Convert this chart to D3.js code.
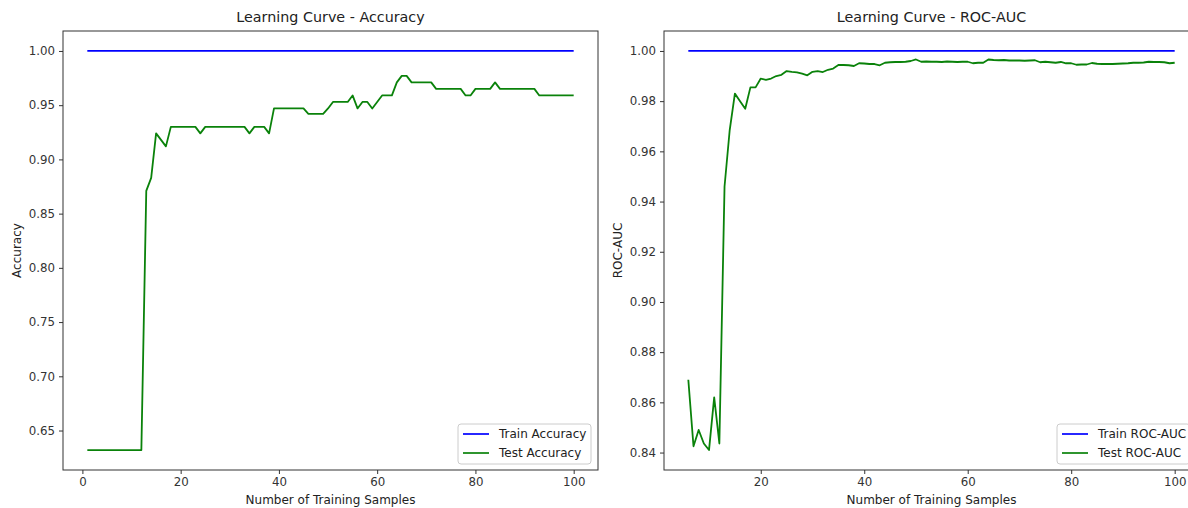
<!DOCTYPE html>
<html>
<head>
<meta charset="utf-8">
<script src="https://cdn.jsdelivr.net/npm/d3@7"></script>
<style>
  body { margin: 0; background: #fff; }
  svg { display: block; font-family: "DejaVu Sans", sans-serif; }
</style>
</head>
<body>
<svg width="1188" height="508"></svg>
<script>
// --------------- //
// DATA //
// --------------- //
// training sizes for the accuracy panel (1..100)
const sizesAcc = [
  1, 2, 3, 4, 5, 6, 7, 8, 9, 10, 11, 12, 13, 14, 15, 16, 17, 18, 19, 20,
  21, 22, 23, 24, 25, 26, 27, 28, 29, 30, 31, 32, 33, 34, 35, 36, 37, 38, 39, 40,
  41, 42, 43, 44, 45, 46, 47, 48, 49, 50, 51, 52, 53, 54, 55, 56, 57, 58, 59, 60,
  61, 62, 63, 64, 65, 66, 67, 68, 69, 70, 71, 72, 73, 74, 75, 76, 77, 78, 79, 80,
  81, 82, 83, 84, 85, 86, 87, 88, 89, 90, 91, 92, 93, 94, 95, 96, 97, 98, 99, 100
];
const trainAcc = [
  1, 1, 1, 1, 1, 1, 1, 1, 1, 1, 1, 1, 1, 1, 1, 1, 1, 1, 1, 1,
  1, 1, 1, 1, 1, 1, 1, 1, 1, 1, 1, 1, 1, 1, 1, 1, 1, 1, 1, 1,
  1, 1, 1, 1, 1, 1, 1, 1, 1, 1, 1, 1, 1, 1, 1, 1, 1, 1, 1, 1,
  1, 1, 1, 1, 1, 1, 1, 1, 1, 1, 1, 1, 1, 1, 1, 1, 1, 1, 1, 1,
  1, 1, 1, 1, 1, 1, 1, 1, 1, 1, 1, 1, 1, 1, 1, 1, 1, 1, 1, 1
];
const testAcc = [
  0.632, 0.632, 0.632, 0.632, 0.632, 0.632, 0.632, 0.632, 0.632, 0.632,
  0.632, 0.632, 0.871, 0.883, 0.924, 0.918, 0.912, 0.930, 0.930, 0.930,
  0.930, 0.930, 0.930, 0.924, 0.930, 0.930, 0.930, 0.930, 0.930, 0.930,
  0.930, 0.930, 0.930, 0.924, 0.930, 0.930, 0.930, 0.924, 0.947, 0.947,
  0.947, 0.947, 0.947, 0.947, 0.947, 0.942, 0.942, 0.942, 0.942, 0.947,
  0.953, 0.953, 0.953, 0.953, 0.959, 0.947, 0.953, 0.953, 0.947, 0.953,
  0.959, 0.959, 0.959, 0.971, 0.977, 0.977, 0.971, 0.971, 0.971, 0.971,
  0.971, 0.965, 0.965, 0.965, 0.965, 0.965, 0.965, 0.959, 0.959, 0.965,
  0.965, 0.965, 0.965, 0.971, 0.965, 0.965, 0.965, 0.965, 0.965, 0.965,
  0.965, 0.965, 0.959, 0.959, 0.959, 0.959, 0.959, 0.959, 0.959, 0.959
];

// training sizes for the ROC-AUC panel (smaller sizes had one class only)
const sizesRoc = [
  6, 7, 8, 9, 10, 11, 12, 13, 14, 15, 16, 17, 18, 19, 20,
  21, 22, 23, 24, 25, 26, 27, 28, 29, 30, 31, 32, 33, 34, 35, 36, 37, 38, 39, 40,
  41, 42, 43, 44, 45, 46, 47, 48, 49, 50, 51, 52, 53, 54, 55, 56, 57, 58, 59, 60,
  61, 62, 63, 64, 65, 66, 67, 68, 69, 70, 71, 72, 73, 74, 75, 76, 77, 78, 79, 80,
  81, 82, 83, 84, 85, 86, 87, 88, 89, 90, 91, 92, 93, 94, 95, 96, 97, 98, 99, 100
];
const trainRoc = [
  1, 1, 1, 1, 1, 1, 1, 1, 1, 1, 1, 1, 1, 1, 1,
  1, 1, 1, 1, 1, 1, 1, 1, 1, 1, 1, 1, 1, 1, 1, 1, 1, 1, 1, 1,
  1, 1, 1, 1, 1, 1, 1, 1, 1, 1, 1, 1, 1, 1, 1, 1, 1, 1, 1, 1,
  1, 1, 1, 1, 1, 1, 1, 1, 1, 1, 1, 1, 1, 1, 1, 1, 1, 1, 1, 1,
  1, 1, 1, 1, 1, 1, 1, 1, 1, 1, 1, 1, 1, 1, 1, 1, 1, 1, 1, 1
];
const testRoc = [
  0.869, 0.8425, 0.849, 0.8436, 0.841, 0.862, 0.8436, 0.946, 0.9685, 0.983,
  0.980, 0.977, 0.9855, 0.9855, 0.989,
  0.9885, 0.989, 0.990, 0.9905, 0.992, 0.9917, 0.9915, 0.991, 0.9903, 0.9917,
  0.992, 0.9916, 0.9925, 0.993, 0.9944, 0.9944, 0.9943, 0.994, 0.9951, 0.995,
  0.9948, 0.9948, 0.9943, 0.9953, 0.9955, 0.9956, 0.9956, 0.9957, 0.996, 0.9966,
  0.9957, 0.9958, 0.9957, 0.9957, 0.9956, 0.9958, 0.9957, 0.9956, 0.9957, 0.9957,
  0.9951, 0.9953, 0.9953, 0.9966, 0.9964, 0.9963, 0.9964, 0.9962, 0.9962, 0.9962,
  0.9961, 0.9962, 0.9963, 0.9955, 0.9957, 0.9955, 0.9953, 0.9956, 0.9951, 0.9951,
  0.9945, 0.9946, 0.9946, 0.9952, 0.9949, 0.9948, 0.9948, 0.9948, 0.9949, 0.995,
  0.9951, 0.9953, 0.9953, 0.9954, 0.9957, 0.9956, 0.9956, 0.9955, 0.9951, 0.9953
];

const accTicksY = [0.65, 0.70, 0.75, 0.80, 0.85, 0.90, 0.95, 1.00];
const rocTicksY = [0.84, 0.86, 0.88, 0.90, 0.92, 0.94, 0.96, 0.98, 1.00];
const ticksX = [0, 20, 40, 60, 80, 100];

const trainColor = "#0000ff";
const testColor = "#0a820a";

let svg = d3.select("svg");

// matplotlib-like 5% margins around the data
function padded(vals) {
  let ext = d3.extent(vals);
  let m = (ext[1] - ext[0]) * 0.05;
  return [ext[0] - m, ext[1] + m];
}

function drawPanel(cfg) {
  const w = 535, h = 439;
  let g = svg.append("g").attr("transform", `translate(${cfg.left},31)`);

  let x = d3.scaleLinear().domain(padded(cfg.sizes)).range([0, w]);
  let y = d3.scaleLinear().domain(padded(cfg.train.concat(cfg.test))).range([h, 0]);

  // --------------- //
  // AXES //
  // --------------- //
  let xAxis = d3.axisBottom(x)
      .tickValues(ticksX.filter(t => t >= x.domain()[0] && t <= x.domain()[1]))
      .tickFormat(d3.format("d"))
      .tickSizeOuter(0)
      .tickSize(4)
      .tickPadding(4);
  let yAxis = d3.axisLeft(y)
      .tickValues(cfg.ticksY)
      .tickFormat(d3.format(".2f"))
      .tickSizeOuter(0)
      .tickSize(4)
      .tickPadding(4);

  let gx = g.append("g").attr("transform", `translate(0,${h})`).call(xAxis);
  let gy = g.append("g").call(yAxis);
  [gx, gy].forEach(a => {
    a.select(".domain").remove();
    a.selectAll("line").attr("stroke", "#333");
    a.selectAll("text").attr("fill", "#333").style("font-size", "11.8px")
      .style("font-family", "'DejaVu Sans', sans-serif");
  });

  // --------------- //
  // LINES //
  // --------------- //
  let line = d3.line().x(d => x(d[0])).y(d => y(d[1]));
  g.append("path")
      .datum(d3.zip(cfg.sizes, cfg.train))
      .attr("d", line)
      .attr("fill", "none")
      .attr("stroke", trainColor)
      .attr("stroke-width", 1.7);
  g.append("path")
      .datum(d3.zip(cfg.sizes, cfg.test))
      .attr("d", line)
      .attr("fill", "none")
      .attr("stroke", testColor)
      .attr("stroke-width", 1.8)
      .attr("stroke-linejoin", "round");

  // frame
  g.append("rect")
      .attr("width", w).attr("height", h)
      .attr("fill", "none").attr("stroke", "#333").attr("stroke-width", 1);

  // --------------- //
  // TITLE + LABELS //
  // --------------- //
  g.append("text")
      .attr("x", w / 2).attr("y", -9)
      .attr("text-anchor", "middle")
      .style("font-size", "14.3px")
      .attr("fill", "#222")
      .text(cfg.title);
  g.append("text")
      .attr("x", w / 2).attr("y", h + 34)
      .attr("text-anchor", "middle")
      .style("font-size", "12px")
      .attr("fill", "#222")
      .text("Number of Training Samples");
  g.append("text")
      .attr("transform", `translate(${-42},${h / 2}) rotate(-90)`)
      .attr("text-anchor", "middle")
      .style("font-size", "12px")
      .attr("fill", "#222")
      .text(cfg.ylabel);

  // --------------- //
  // LEGEND //
  // --------------- //
  let lg = g.append("g").attr("transform", `translate(${cfg.legendX},${h - 46})`);
  lg.append("rect")
      .attr("width", 133).attr("height", 40).attr("rx", 3)
      .attr("fill", "#fff").attr("fill-opacity", 0.8)
      .attr("stroke", "#ccc");
  cfg.labels.forEach((lab, i) => {
    let yy = 10 + i * 19;
    lg.append("line")
        .attr("x1", 5).attr("x2", 31).attr("y1", yy).attr("y2", yy)
        .attr("stroke", i === 0 ? trainColor : testColor).attr("stroke-width", 1.7);
    lg.append("text")
        .attr("x", 41).attr("y", yy + 4)
        .style("font-size", "12px")
        .attr("fill", "#222")
        .text(lab);
  });
}

drawPanel({
  left: 63, sizes: sizesAcc, train: trainAcc, test: testAcc, ticksY: accTicksY,
  title: "Learning Curve - Accuracy", ylabel: "Accuracy",
  labels: ["Train Accuracy", "Test Accuracy"], legendX: 395
});
drawPanel({
  left: 664, sizes: sizesRoc, train: trainRoc, test: testRoc, ticksY: rocTicksY,
  title: "Learning Curve - ROC-AUC", ylabel: "ROC-AUC",
  labels: ["Train ROC-AUC", "Test ROC-AUC"], legendX: 393
});
</script>
</body>
</html>
